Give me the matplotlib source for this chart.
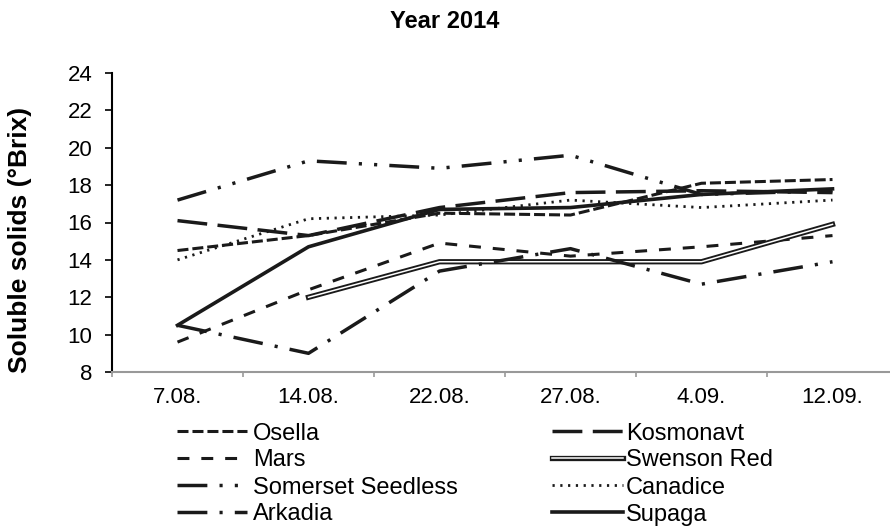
import numpy as np
import matplotlib
matplotlib.use('Agg')
import matplotlib.pyplot as plt
import matplotlib.patheffects as pe
from matplotlib.lines import Line2D

plt.rcParams['font.family'] = ['Liberation Sans', 'DejaVu Sans']

# Dane
dates = ['7.08.', '14.08.', '22.08.', '27.08.', '4.09.', '12.09.']
osella = [14.5, 15.3, 16.5, 16.4, 18.1, 18.3]
kosmonavt = [16.1, 15.3, 16.8, 17.6, 17.7, 17.6]
mars = [9.6, 12.4, 14.9, 14.2, 14.7, 15.3]
swenson_red = [np.nan, 12.0, 13.9, 13.9, 13.9, 15.9]
somerset = [17.2, 19.3, 18.9, 19.6, 17.5, 17.7]
canadice = [14.0, 16.2, 16.4, 17.2, 16.8, 17.2]
arkadia = [10.5, 9.0, 13.4, 14.6, 12.7, 13.9]
supaga = [10.5, 14.7, 16.7, 16.8, 17.5, 17.8]

x = np.arange(len(dates))
k = '#1a1a1a'
W, H = 890, 526

fig = plt.figure(figsize=(8.9, 5.26), dpi=100)
ax = fig.add_axes([112 / W, 1 - 372 / H, 786 / W, 299 / H])

l_osella, = ax.plot(x, osella, color=k, lw=2.2, dashes=(3.6, 1.3), label='Osella')
l_kosm, = ax.plot(x, kosmonavt, color=k, lw=2.5, dashes=(8.6, 3), label='Kosmonavt')
l_mars, = ax.plot(x, mars, color=k, lw=2.2, dashes=(3.9, 3.9), label='Mars')
l_swen, = ax.plot(x, swenson_red, color='white', lw=1.1, label='Swenson Red',
                  path_effects=[pe.Stroke(linewidth=3.8, foreground=k), pe.Normal()])
l_som, = ax.plot(x, somerset, color=k, lw=2.5, dashes=(8.6, 3.5, 0.9, 3.5, 0.9, 3.5),
                 label='Somerset Seedless')
l_can, = ax.plot(x, canadice, color=k, lw=2.0, dashes=(0.8, 2.0), label='Canadice')
l_ark, = ax.plot(x, arkadia, color=k, lw=2.5, dashes=(8.6, 3.5, 0.9, 3.5), label='Arkadia')
l_sup, = ax.plot(x, supaga, color=k, lw=2.6, label='Supaga')

ax.set_xlim(-0.5, 5.5)
ax.set_ylim(8, 24)
ax.set_yticks(np.arange(8, 25, 2))
ax.set_xticks(x)
ax.set_xticklabels(dates)
ax.set_xticks(np.arange(-0.5, 6, 1), minor=True)
ax.tick_params(axis='x', which='major', length=0, pad=11, labelsize=16)
ax.tick_params(axis='x', which='minor', length=3.5, width=1.2, color='#999999', direction='out')
ax.tick_params(axis='y', length=5, width=1.2, direction='out', labelsize=16, pad=9)

for s in ['top', 'right']:
    ax.spines[s].set_visible(False)
ax.spines['bottom'].set_color('#999999')
ax.spines['left'].set_color('black')
ax.spines['bottom'].set_linewidth(1.5)
ax.spines['left'].set_linewidth(1.5)

fig.text(20 / W, 1 - 240 / H, 'Soluble solids (°Brix)', rotation=90, ha='center', va='center',
         fontsize=19, fontweight='bold')
fig.text(0.5, 1 - 22 / H, 'Year 2014', ha='center', va='center', fontsize=17, fontweight='bold')

# Legenda ustawiona recznie (2 kolumny jak w oryginale)
order = [l_osella, l_mars, l_som, l_ark, l_kosm, l_swen, l_can, l_sup]
rows_y = [431, 458, 485, 512]
cols = [(177, 247, 253), (552, 623, 626)]
for i, line in enumerate(order):
    x0, x1, xt = cols[i // 4]
    yy = rows_y[i % 4]
    h = Line2D([0, 1], [0, 0])
    h.update_from(line)
    h.set_transform(fig.transFigure)
    h.set_clip_on(False)
    h.set_clip_box(None)
    h.set_data([x0 / W, x1 / W], [1 - yy / H, 1 - yy / H])
    fig.add_artist(h)
    fig.text(xt / W, 1 - (yy + 8.5) / H, line.get_label(), fontsize=17, va='baseline', ha='left')

fig.savefig('out.png', dpi=100)
